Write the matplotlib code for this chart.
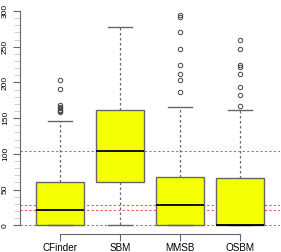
import matplotlib.pyplot as plt
import numpy as np

plt.rcParams["font.family"] = ["Liberation Sans", "DejaVu Sans"]

# valeurs
methods = ["CFinder", "SBM", "MMSB", "OSBM"]
q1 = [0, 61, 0, 0]
medians = [22, 104, 28, 0]
q3 = [60, 162, 68, 66]
whislo = [0, 0, 0, 0]
whishi = [146, 278, 165, 162]
outliers = [
    [158, 160, 162, 164, 166, 168, 191, 204],
    [],
    [186, 203, 212, 224, 247, 271, 291, 295],
    [167, 182, 194, 212, 222, 225, 247, 259],
]
ref_lines = [104, 28, 22, 0]

W, H = 281, 252
fig = plt.figure(figsize=(W / 100, H / 100), dpi=100)
ax = fig.add_axes([20 / W, 18.5 / H, 259.6 / W, 225.8 / H])

stats = []
for i, m in enumerate(methods):
    stats.append(dict(label=m, q1=q1[i], med=medians[i], q3=q3[i],
                      whislo=whislo[i], whishi=whishi[i], fliers=outliers[i]))

gray = "#666666"
ax.bxp(stats, positions=range(1, 5), widths=0.8, patch_artist=True,
       boxprops=dict(facecolor="#f4ff00", edgecolor=gray, linewidth=1),
       medianprops=dict(color="black", linewidth=1.3),
       whiskerprops=dict(color=gray, linewidth=0.9, linestyle=(0, (2, 2))),
       capprops=dict(color=gray, linewidth=1),
       capwidths=0.4,
       flierprops=dict(marker="o", markersize=3.2, markerfacecolor="none",
                       markeredgecolor="#444444", markeredgewidth=0.7))

for v in ref_lines:
    ax.axhline(v, color="#ff5050", linewidth=0.8, linestyle=(0, (2, 2)), zorder=0.5)

ax.set_xlim(0.34, 4.66)
ax.set_ylim(-11.5, 304.7)

for s in ["top", "right"]:
    ax.spines[s].set_visible(False)
ax.spines["left"].set_bounds(0, 300)
ax.spines["bottom"].set_bounds(1, 4)
ax.spines["left"].set_color(gray)
ax.spines["bottom"].set_color(gray)

ax.set_yticks(np.arange(0, 301, 50))
ax.set_yticks(np.arange(0, 301, 10), minor=True)
ax.tick_params(axis="y", which="major", length=5, color=gray, labelsize=6, pad=3,
               labelrotation=90)
ax.tick_params(axis="y", which="minor", length=4, color="#c8c8c8")
for t in ax.get_yticklabels():
    t.set_va("center")
ax.set_xticks(range(1, 5))
ax.set_xticklabels(methods)
ax.tick_params(axis="x", length=5, color=gray, labelsize=7.1, pad=1.8)

plt.savefig("out.png", dpi=100)
